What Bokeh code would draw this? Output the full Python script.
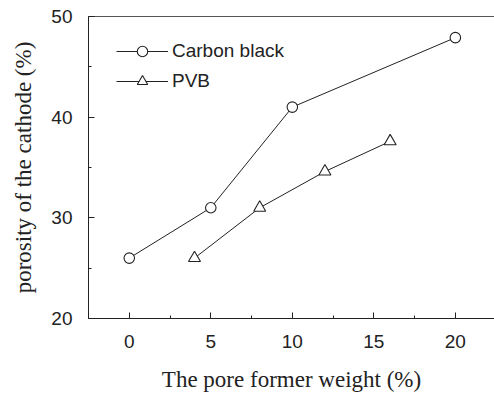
from bokeh.plotting import figure
from bokeh.models import Range1d, SingleIntervalTicker, FixedTicker, LinearAxis, Legend, LegendItem
from bokeh.embed import file_html
from bokeh.resources import INLINE

cb_x = [0, 5, 10, 20]
cb_y = [26, 31, 41, 47.9]
pvb_x = [4, 8, 12, 16]
pvb_y = [26, 31.0, 34.6, 37.6]
x_ticks = [0, 5, 10, 15, 20]
y_ticks = [20, 30, 40, 50]

SANS = "Liberation Sans"
SERIF = "Liberation Serif"

p = figure(width=494, height=394, output_backend="svg", toolbar_location=None,
           x_range=Range1d(-2.5, 22.4), y_range=Range1d(20, 50),
           min_border_left=88, min_border_right=0, min_border_top=16, min_border_bottom=76,
           x_axis_type=None, y_axis_type=None)
p.outline_line_color = None
p.grid.visible = False
p.background_fill_color = "white"
p.border_fill_color = "white"

xax = LinearAxis(ticker=SingleIntervalTicker(interval=5, num_minor_ticks=2))
yax = LinearAxis(ticker=SingleIntervalTicker(interval=10, num_minor_ticks=2))
for ax in (xax, yax):
    ax.major_tick_in = 6
    ax.major_tick_out = 0
    ax.minor_tick_in = 3
    ax.minor_tick_out = 0
    ax.axis_line_color = "#222222"
    ax.major_tick_line_color = "#222222"
    ax.minor_tick_line_color = "#222222"
    ax.major_label_text_font = SANS
    ax.major_label_text_font_size = "19px"
    ax.major_label_text_color = "#222222"
    ax.axis_label_text_font = SERIF
    ax.axis_label_text_font_style = "normal"
    ax.axis_label_text_font_size = "23px"
    ax.axis_label_text_color = "#222222"
    ax.major_label_standoff = 16
xax.axis_label = "The pore former weight (%)"
yax.axis_label = "porosity of the cathode (%)"
xax.axis_label_standoff = 16
yax.axis_label_standoff = 12
p.add_layout(xax, "below")
p.add_layout(yax, "left")

top = LinearAxis(ticker=FixedTicker(ticks=[]), major_tick_in=0, major_tick_out=0,
                 minor_tick_in=0, minor_tick_out=0, axis_line_color="#555555",
                 major_label_standoff=0)
p.add_layout(top, "above")

l1 = p.line(cb_x, cb_y, line_color="#222222", line_width=1)
m1 = p.scatter(cb_x, cb_y, marker="circle", size=10.5, fill_color="white",
               line_color="#222222", line_width=1.1)
l2 = p.line(pvb_x, pvb_y, line_color="#222222", line_width=1)
m2 = p.scatter(pvb_x, pvb_y, marker="triangle", size=12, fill_color="white",
               line_color="#222222", line_width=1.1)

legend = Legend(items=[LegendItem(label="Carbon black", renderers=[l1, m1]),
                       LegendItem(label="PVB", renderers=[l2, m2])],
                location=(28, 302 - 22 - 26 - 30), margin=0, padding=0, spacing=4,
                glyph_width=52, glyph_height=26, label_standoff=4,
                label_text_font=SANS, label_text_font_size="19px",
                label_text_color="#222222",
                background_fill_alpha=0, border_line_color=None)
p.add_layout(legend)

open("out.html", "w").write(file_html(p, INLINE))
